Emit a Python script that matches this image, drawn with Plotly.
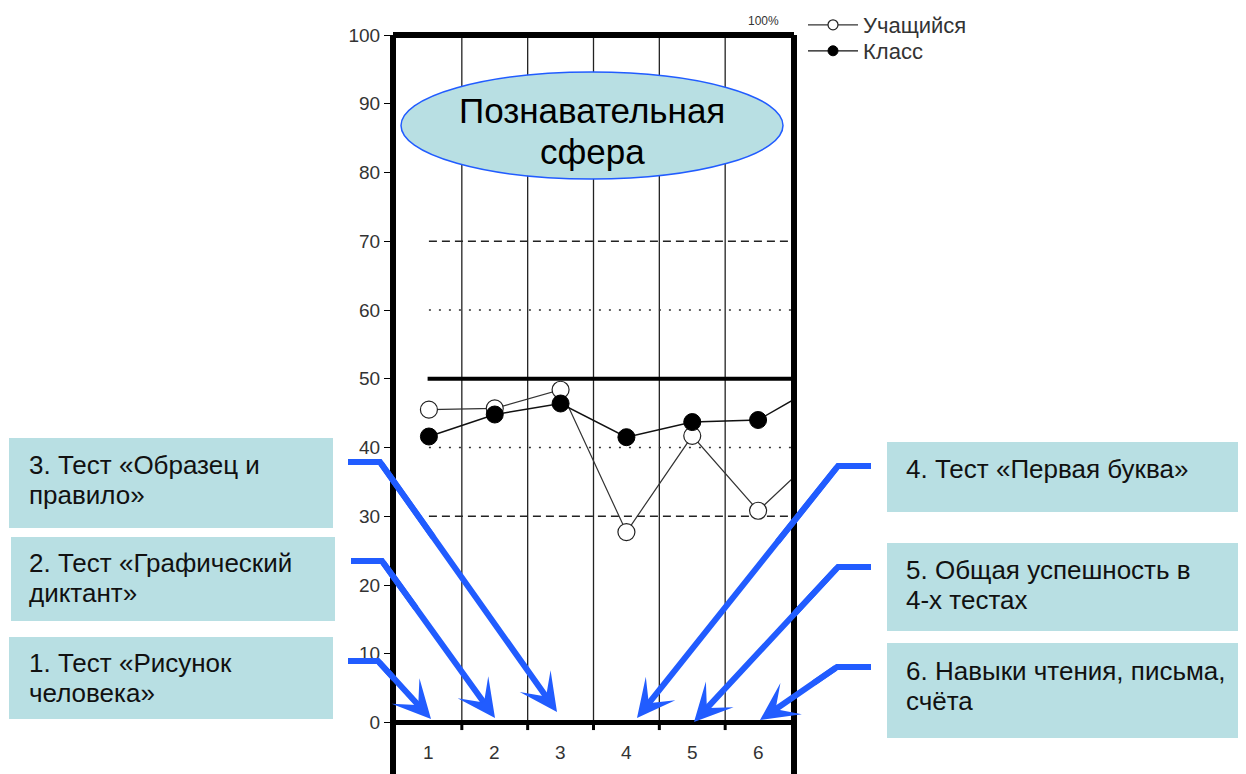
import plotly.graph_objects as go

# ---------------- data ----------------
categories = [1, 2, 3, 4, 5, 6]
tick_labels = ["1", "2", "3", "4", "5", "6"]
student = [45.5, 45.7, 48.4, 27.7, 41.7, 30.8]
klass = [41.6, 44.8, 46.4, 41.5, 43.7, 44.0]
# lines continue past the right edge toward a next (hidden) point
next_x = 7
student_next = 39.8
klass_next = 49.5
series_names = ["Учащийся", "Класс"]
dashed_levels = [30, 70]
dotted_levels = [40, 60]
solid_levels = [50]
y_ticks = [0, 10, 20, 30, 40, 50, 60, 70, 80, 90, 100]
title_lines = ["Познавательная", "сфера"]
left_boxes = [
    ["3. Тест «Образец и", "правило»"],
    ["2. Тест «Графический", "диктант»"],
    ["1. Тест «Рисунок", "человека»"],
]
right_boxes = [
    ["4. Тест «Первая буква»"],
    ["5. Общая успешность в", "4-х тестах"],
    ["6. Навыки чтения, письма,", "счёта"],
]

# ---------------- layout helpers (reference pixel coords) ----------------
FW, FH = 1246, 774
OFF = 8                      # page body margin shift
L, R, T = 396, 791, 35       # plot edges in reference pixels
BOT = FH + OFF               # plot bottom in reference pixels
PW, PH = R - L, BOT - T
PX_PER_UNIT = (722.5 - 35) / 100.0
Y_MIN = 100 - PH / PX_PER_UNIT


def px(x):
    return (x - L) / PW


def py(y):
    return (BOT - y) / PH


FONT = "Liberation Sans, Arial, sans-serif"
BOX_FILL = "#b8dfe3"
BLUE = "#215cff"

fig = go.Figure()

fig.add_trace(go.Scatter(
    x=categories + [next_x], y=student + [student_next],
    mode="lines+markers", name=series_names[0], showlegend=False,
    line=dict(color="#333333", width=1.2),
    marker=dict(symbol="circle", size=17, color="white",
                line=dict(color="#222222", width=1.2)),
))
fig.add_trace(go.Scatter(
    x=categories + [next_x], y=klass + [klass_next],
    mode="lines+markers", name=series_names[1], showlegend=False,
    line=dict(color="#111111", width=1.5),
    marker=dict(symbol="circle", size=17, color="black",
                line=dict(color="black", width=1)),
))
# legend entries (small symbols as in the original legend)
fig.add_trace(go.Scatter(
    x=[None], y=[None], mode="lines+markers", name=series_names[0], legend="legend",
    line=dict(color="#333333", width=1.2),
    marker=dict(symbol="circle", size=10, color="white", line=dict(color="#222222", width=1.2)),
))
fig.add_trace(go.Scatter(
    x=[None], y=[None], mode="lines+markers", name=series_names[1], legend="legend2",
    line=dict(color="#111111", width=1.2),
    marker=dict(symbol="circle", size=10, color="black", line=dict(color="black", width=1)),
))

shapes = []
n = len(categories)
# vertical separators between categories
for i in range(n - 1):
    xv = categories[i] + 0.5
    shapes.append(dict(type="line", xref="x", yref="y", x0=xv, x1=xv, y0=0, y1=100,
                       line=dict(color="#222222", width=1.3), layer="below"))
    shapes.append(dict(type="line", xref="x", yref="y", x0=xv, x1=xv, y0=0, y1=-1.1,
                       line=dict(color="black", width=3), layer="below"))
# reference levels
for lv in dashed_levels:
    shapes.append(dict(type="line", xref="x", yref="y", x0=categories[0], x1=n + 0.5, y0=lv, y1=lv,
                       line=dict(color="#222222", width=1.7, dash="8px,5px"), layer="below"))
for lv in dotted_levels:
    shapes.append(dict(type="line", xref="x", yref="y", x0=categories[0], x1=n + 0.5, y0=lv, y1=lv,
                       line=dict(color="#333333", width=1.7, dash="2px,8px"), layer="below"))
for lv in solid_levels:
    shapes.append(dict(type="line", xref="x", yref="y", x0=categories[0] - 0.02, x1=n + 0.5, y0=lv, y1=lv,
                       line=dict(color="black", width=4), layer="below"))
# top border
shapes.append(dict(type="line", xref="paper", yref="paper", x0=px(393), x1=px(794), y0=py(35), y1=py(35),
                   line=dict(color="black", width=6), layer="above"))

# title ellipse
shapes.append(dict(type="circle", xref="paper", yref="paper",
                   x0=px(401), x1=px(783), y0=py(179), y1=py(72),
                   fillcolor=BOX_FILL, line=dict(color=BLUE, width=1.5), layer="above"))

annotations = []
for txt, ty in zip(title_lines, [110, 152]):
    annotations.append(dict(text=txt, xref="paper", yref="paper", x=px(592), y=py(ty),
                            showarrow=False, font=dict(family=FONT, size=35, color="black"),
                            xanchor="center", yanchor="middle"))

# text boxes
left_geo = [(9, 333, 438, 528), (11, 335, 537, 621), (9, 333, 637, 719)]
right_geo = [(887, 1246, 442, 512), (887, 1246, 543, 631), (887, 1246, 643, 738)]
left_line_y = [[465, 495], [563, 593], [663, 693]]
right_line_y = [[469], [570, 600], [671, 701]]
for (x0, x1, y0, y1), lines, tys in zip(left_geo, left_boxes, left_line_y):
    shapes.append(dict(type="rect", xref="paper", yref="paper", x0=px(x0), x1=px(x1), y0=py(y1), y1=py(y0),
                       fillcolor=BOX_FILL, line=dict(width=0), layer="above"))
    for txt, ty in zip(lines, tys):
        annotations.append(dict(text=txt, xref="paper", yref="paper", x=px(27), y=py(ty),
                                showarrow=False, xanchor="left", yanchor="middle", align="left",
                                font=dict(family=FONT, size=26, color="#111111")))
for (x0, x1, y0, y1), lines, tys in zip(right_geo, right_boxes, right_line_y):
    shapes.append(dict(type="rect", xref="paper", yref="paper", x0=px(x0), x1=px(x1), y0=py(y1), y1=py(y0),
                       fillcolor=BOX_FILL, line=dict(width=0), layer="above"))
    for txt, ty in zip(lines, tys):
        annotations.append(dict(text=txt, xref="paper", yref="paper", x=px(904), y=py(ty),
                                showarrow=False, xanchor="left", yanchor="middle", align="left",
                                font=dict(family=FONT, size=26, color="#111111")))

# arrows: (horizontal start x, corner x, y, tip x, tip y)
arrows = [
    (348, 380, 462, 557, 712),
    (351, 382, 561, 495, 718),
    (348, 378, 661, 431, 719),
    (871, 838, 466, 637, 718),
    (871, 838, 567, 694, 722),
    (871, 837, 667, 760, 720),
]
for hx, cx, cy, tx, ty in arrows:
    mx = cx + (tx - cx) * 0.3
    my = cy + (ty - cy) * 0.3
    path = f"M {px(hx)},{py(cy)} L {px(cx)},{py(cy)} L {px(mx)},{py(my)}"
    shapes.append(dict(type="path", xref="paper", yref="paper", path=path,
                       line=dict(color=BLUE, width=6), layer="above"))
    annotations.append(dict(text="", xref="paper", yref="paper", x=px(tx), y=py(ty),
                            ax=cx - tx, ay=cy - ty, axref="pixel", ayref="pixel",
                            showarrow=True, arrowhead=3, arrowsize=1.05, arrowwidth=6,
                            arrowcolor=BLUE, standoff=0))

# category labels below the zero line
for c, lab in zip(categories, tick_labels):
    annotations.append(dict(text=lab, xref="x", yref="y", x=c, y=-4.3, showarrow=False,
                            font=dict(family=FONT, size=19, color="#333333"),
                            xanchor="center", yanchor="middle"))

annotations.append(dict(text="100%", xref="paper", yref="paper", x=px(763), y=py(21), showarrow=False,
                        font=dict(family=FONT, size=12, color="#333333"),
                        xanchor="center", yanchor="middle"))

legend_common = dict(xanchor="left", yanchor="top", bgcolor="rgba(0,0,0,0)",
                     font=dict(family=FONT, size=22, color="#333333"),
                     itemsizing="trace", itemwidth=50)

fig.update_layout(
    width=FW, height=FH,
    margin=dict(l=L - OFF, r=FW - (R - OFF), t=T - OFF, b=0, pad=0, autoexpand=False),
    paper_bgcolor="white", plot_bgcolor="white",
    font=dict(family=FONT, color="#333333"),
    shapes=shapes, annotations=annotations,
    showlegend=True,
    legend=dict(x=px(803), y=py(4), **legend_common),
    legend2=dict(x=px(803), y=py(30), **legend_common),
    xaxis=dict(range=[0.5, n + 0.5], showgrid=False, zeroline=False, showticklabels=False,
               showline=False, ticks=""),
    yaxis=dict(range=[Y_MIN, 100], tickvals=y_ticks, showgrid=False,
               zeroline=True, zerolinecolor="black", zerolinewidth=5,
               showline=True, linecolor="black", linewidth=6, mirror=True,
               ticks="outside", ticklen=6, tickwidth=1, tickcolor="black",
               tickfont=dict(family=FONT, size=19, color="#333333")),
)

fig.write_html("out.html")
